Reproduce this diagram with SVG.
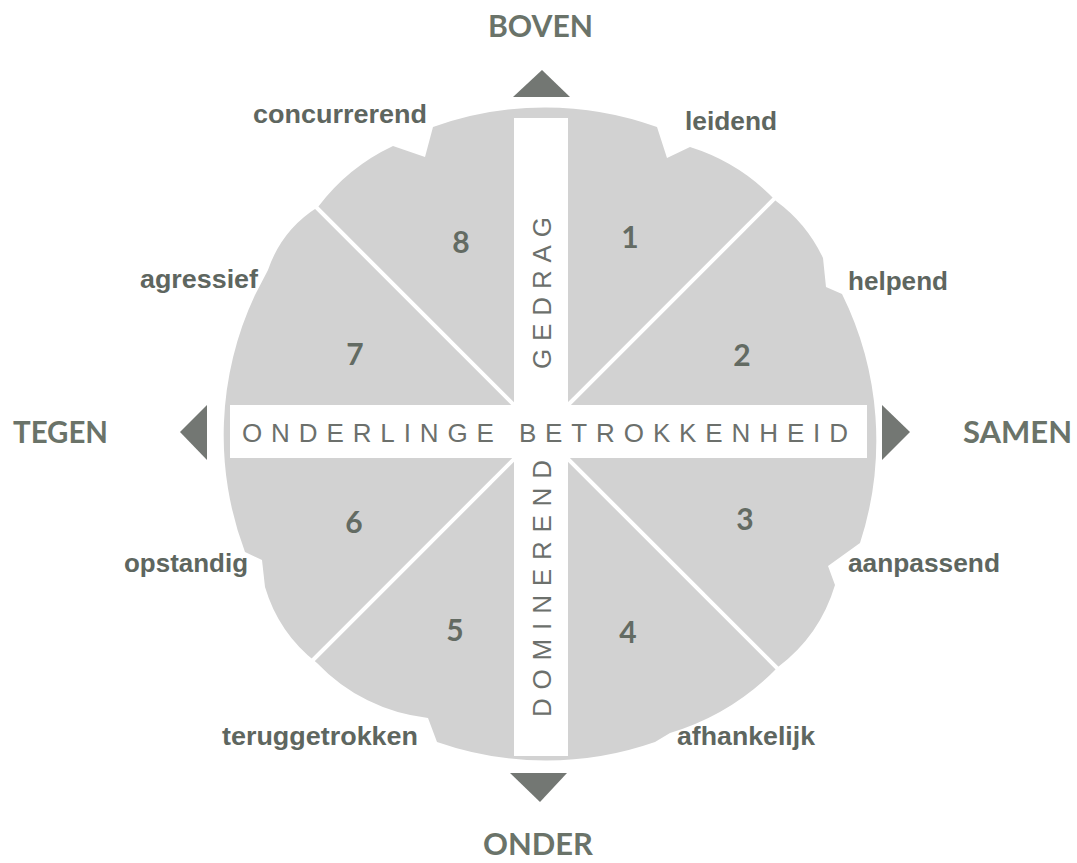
<svg xmlns="http://www.w3.org/2000/svg" width="1077" height="863" viewBox="0 0 1077 863">
<style>
.lbl{font-family:"Liberation Sans",Arial,sans-serif;font-weight:bold;font-size:26px;fill:#5e665f}
.dir{font-family:Lato,"Open Sans",sans-serif;font-weight:bold;font-size:30px;fill:#6a7369}
.num{font-family:Lato,"Open Sans",sans-serif;font-weight:bold;font-size:30px;fill:#636b63;text-anchor:middle}
.bar{font-family:"Liberation Sans",Arial,sans-serif;font-size:26px;fill:#6c706c}
.arrow{fill:#737773}
.diag{stroke:#ffffff;stroke-width:4;fill:none}
</style>
<rect width="1077" height="863" fill="#ffffff"/>
<g id="rose">
<path fill="#d2d2d2" d="M433,127 A330,330 0 0 1 657,127 L667,158 L690,147 A200,200 0 0 1 776,201 A150,150 0 0 1 823,258 L826,287 L842,294 A330,330 0 0 1 860,543 L828,566 L835,585 A160,160 0 0 1 778,667 A250,250 0 0 1 670,733 L655,742 A330,330 0 0 1 437,742 L428,718 A180,180 0 0 1 317,663 A150,150 0 0 1 265,587 L262,560 L245,552 A330,330 0 0 1 255,295 L268,270 A120,120 0 0 1 318,207 A200,200 0 0 1 393,146 L425,157 Z"/>
</g>
<g id="connectors">
<line class="diag" x1="541" y1="432" x2="791" y2="182"/>
<line class="diag" x1="541" y1="432" x2="291" y2="182"/>
<line class="diag" x1="541" y1="432" x2="291" y2="682"/>
<line class="diag" x1="541" y1="432" x2="791" y2="682"/>
</g>
<g id="bar-vertical">
<rect x="514" y="118" width="54" height="638" fill="#ffffff"/>
<text class="bar" transform="translate(551,369) rotate(-90)" x="0" y="0" textLength="152" lengthAdjust="spacing">GEDRAG</text>
<text class="bar" transform="translate(551,717) rotate(-90)" x="0" y="0" textLength="257" lengthAdjust="spacing">DOMINEREND</text>
</g>
<g id="bar-horizontal">
<rect x="230" y="405" width="637" height="53" fill="#ffffff"/>
<text class="bar" x="242" y="442" textLength="606" lengthAdjust="spacing">ONDERLINGE BETROKKENHEID</text>
</g>
<g id="arrows">
<polygon class="arrow" points="542,70 513,97 570,97"/>
<polygon class="arrow" points="510,773 567,773 540,802"/>
<polygon class="arrow" points="180,432 207,405 207,460"/>
<polygon class="arrow" points="882,405 882,460 910,432"/>
</g>
<g id="directions">
<text class="dir" x="488" y="37" textLength="105" lengthAdjust="spacingAndGlyphs">BOVEN</text>
<text class="dir" x="483" y="855" textLength="110" lengthAdjust="spacingAndGlyphs">ONDER</text>
<text class="dir" x="13" y="443" textLength="95" lengthAdjust="spacingAndGlyphs">TEGEN</text>
<text class="dir" x="963" y="443" textLength="109" lengthAdjust="spacingAndGlyphs">SAMEN</text>
</g>
<g id="numbers">
<text class="num" x="630" y="248">1</text>
<text class="num" x="742" y="366">2</text>
<text class="num" x="745" y="530">3</text>
<text class="num" x="628" y="643">4</text>
<text class="num" x="455" y="641">5</text>
<text class="num" x="354" y="533">6</text>
<text class="num" x="355" y="365">7</text>
<text class="num" x="461" y="253">8</text>
</g>
<g id="labels">
<text class="lbl" x="253" y="123" textLength="174" lengthAdjust="spacingAndGlyphs">concurrerend</text>
<text class="lbl" x="685" y="130" textLength="92" lengthAdjust="spacingAndGlyphs">leidend</text>
<text class="lbl" x="848" y="290" textLength="100" lengthAdjust="spacingAndGlyphs">helpend</text>
<text class="lbl" x="140" y="288" textLength="118" lengthAdjust="spacingAndGlyphs">agressief</text>
<text class="lbl" x="124" y="572" textLength="124" lengthAdjust="spacingAndGlyphs">opstandig</text>
<text class="lbl" x="848" y="572" textLength="152" lengthAdjust="spacingAndGlyphs">aanpassend</text>
<text class="lbl" x="222" y="745" textLength="196" lengthAdjust="spacingAndGlyphs">teruggetrokken</text>
<text class="lbl" x="677" y="745" textLength="138" lengthAdjust="spacingAndGlyphs">afhankelijk</text>
</g>
</svg>
